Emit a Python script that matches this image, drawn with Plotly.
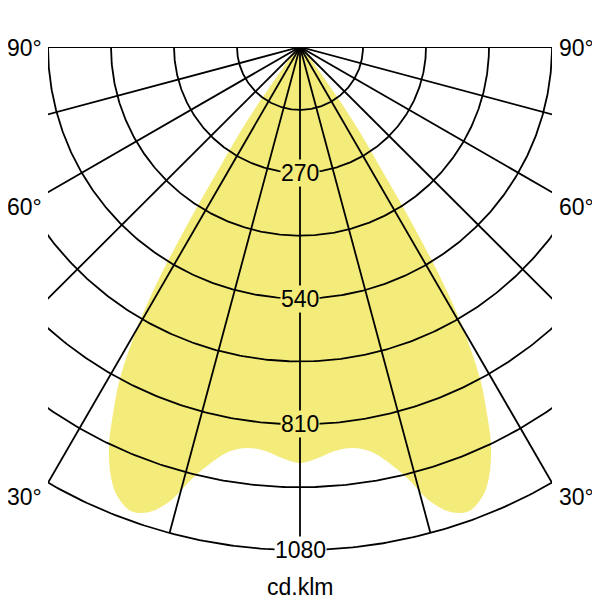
import numpy as np
import plotly.graph_objects as go

# Luminous intensity (cd/klm) against angle from nadir, one half (the curve is symmetric)
gamma_deg = [0, 2.5, 5, 7.5, 10, 12, 14, 16, 18, 20, 22, 23.5, 25.5, 27, 28.4, 29.7,
             30.5, 31.2, 31.8, 32.4, 33, 33.8, 35, 36.2, 37.2, 39, 43, 50, 60, 75, 90]
intensity = [893, 883, 870, 868, 882, 912, 955, 1015, 1050, 1060, 1042, 1013, 951, 882, 813, 724,
             660, 590, 520, 445, 375, 300, 225, 160, 100, 60, 30, 15, 6, 2, 0]

# Grid: rings every 135 cd/klm, spokes every 15 degrees
ring_values = [135, 270, 405, 540, 675, 810, 945, 1080]
ring_labels = [270, 540, 810, 1080]
spoke_angles = [-90, -75, -60, -45, -30, -15, 0, 15, 30, 45, 60, 75, 90]
angle_labels = ['90°', '60°', '30°']

r_max = 1080
fill_color = '#f3eb7a'
font_family = 'Liberation Sans, Arial, sans-serif'

# Mirror the half curve to get the full distribution from -90 to 90 degrees
g = np.array(gamma_deg, dtype=float)
v = np.array(intensity, dtype=float)
g_full = np.concatenate([-g[::-1], g[1:]])
v_full = np.concatenate([v[::-1], v[1:]])
rad = np.radians(g_full)
curve_x = v_full * np.sin(rad)
curve_y = -v_full * np.cos(rad)

fig = go.Figure()

# Filled light distribution curve
fig.add_trace(go.Scatter(
    x=curve_x, y=curve_y,
    mode='lines', fill='toself', fillcolor=fill_color,
    line=dict(width=0, shape='spline', color=fill_color),
    hoverinfo='skip', showlegend=False,
))

# Rings
t = np.radians(np.linspace(-90, 90, 361))
gx, gy = [], []
for r in ring_values:
    gx += list(r * np.sin(t)) + [None]
    gy += list(-r * np.cos(t)) + [None]

# Spokes (anything past the side edges is clipped by the axes)
for a in spoke_angles:
    ar = np.radians(a)
    gx += [0, r_max * np.sin(ar), None]
    gy += [0, -r_max * np.cos(ar), None]

fig.add_trace(go.Scatter(
    x=gx, y=gy, mode='lines',
    line=dict(color='black', width=1.8),
    hoverinfo='skip', showlegend=False,
))

# Ring labels on the vertical axis
for val in ring_labels:
    fig.add_annotation(
        x=0, y=-val, text=str(val), showarrow=False,
        font=dict(size=23, color='black'),
        bgcolor='white' if val == r_max else fill_color, borderpad=0,
    )

# Angle labels on both sides
label_y = [-2, -343, -966]
for txt, yy in zip(angle_labels, label_y):
    fig.add_annotation(xref='paper', x=0, y=yy, text=txt, showarrow=False,
                       xanchor='right', xshift=-4, font=dict(size=23, color='black'))
    fig.add_annotation(xref='paper', x=1, y=yy, text=txt, showarrow=False,
                       xanchor='left', xshift=5, font=dict(size=23, color='black'))

# Unit label
fig.add_annotation(xref='paper', yref='paper', x=0.5, y=0, yshift=-50, text='cd.klm',
                   showarrow=False, font=dict(size=23, color='black'))

# Layout (page body adds an 8px offset, margins compensate for it)
fig.update_layout(
    width=600, height=600,
    margin=dict(l=40, r=56, t=39, b=56),
    paper_bgcolor='white', plot_bgcolor='white',
    font=dict(family=font_family),
    xaxis=dict(range=[-540, 540], visible=False, fixedrange=True),
    yaxis=dict(range=[-1084, 0], visible=False, fixedrange=True),
)

fig.write_html('out.html')
